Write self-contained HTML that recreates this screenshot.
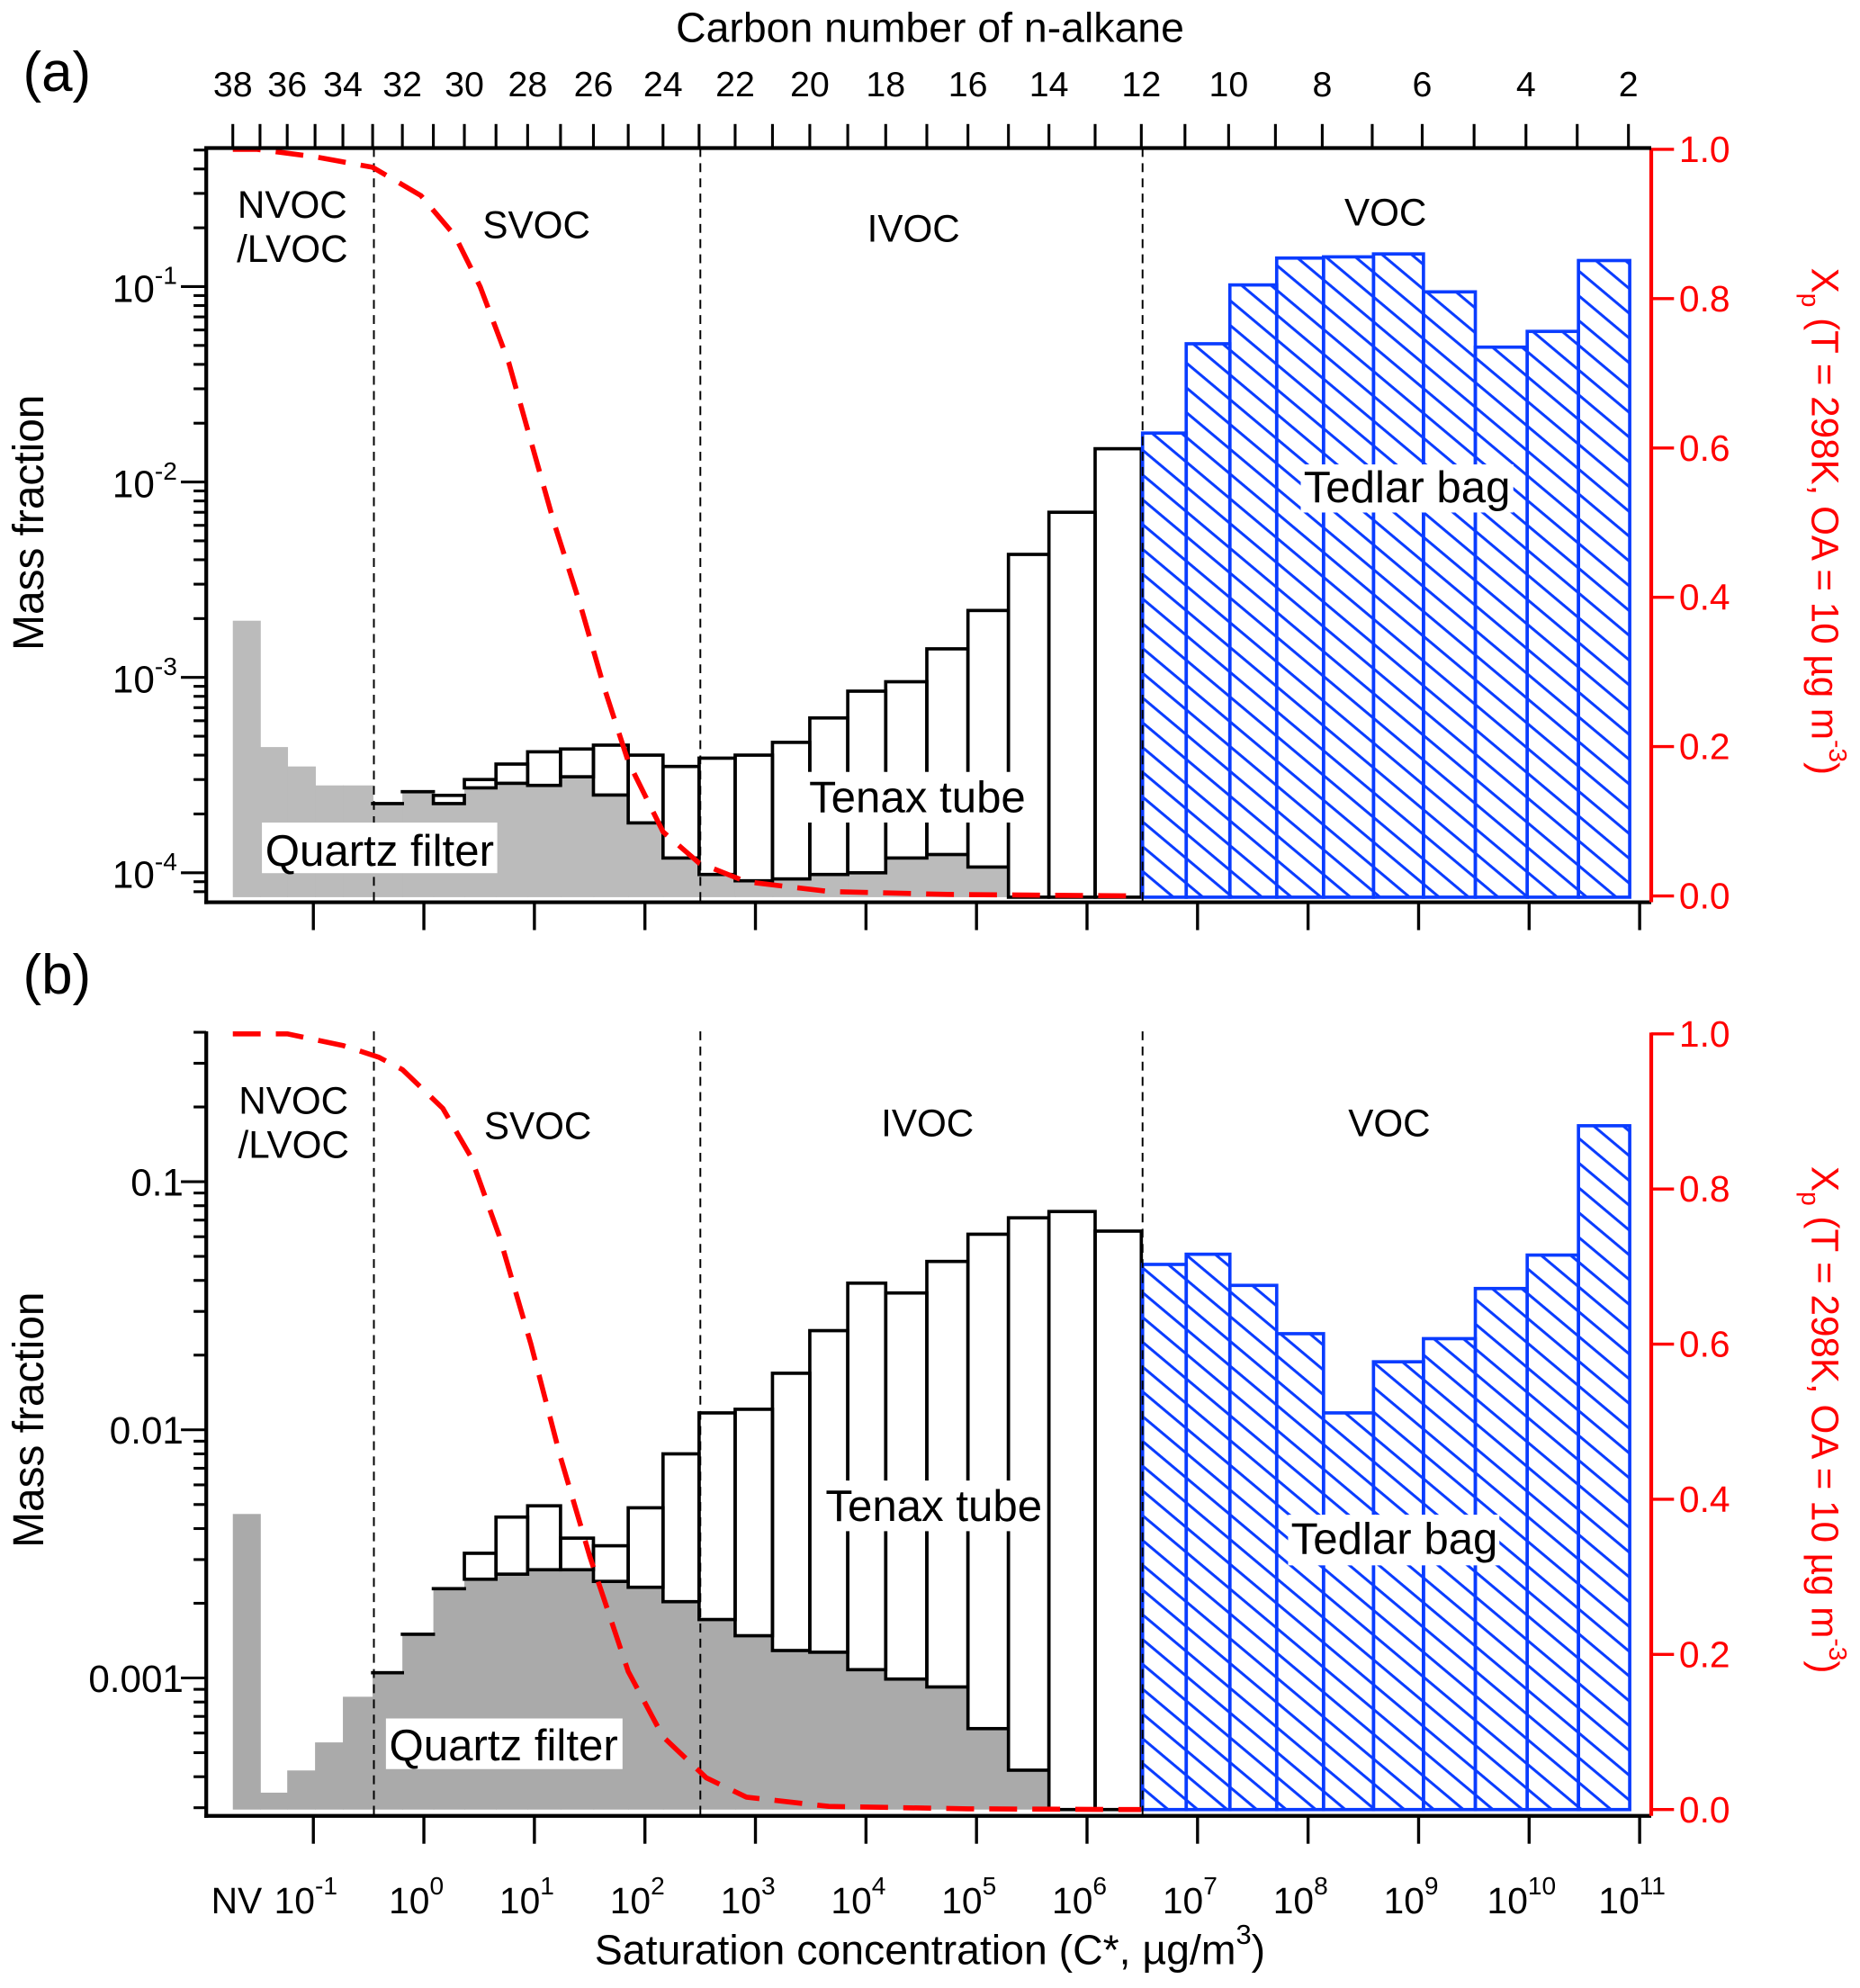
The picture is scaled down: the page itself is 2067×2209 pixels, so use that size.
<!DOCTYPE html>
<html><head><meta charset="utf-8"><title>Mass fraction vs saturation concentration</title>
<style>
html,body{margin:0;padding:0;background:#fff;}
svg{display:block;font-family:"Liberation Sans",Arial,sans-serif;}
</style></head>
<body>
<svg id="chart" width="2067" height="2209" viewBox="0 0 1470 1571" preserveAspectRatio="none" xmlns="http://www.w3.org/2000/svg">
<defs>
<pattern id="hatch" patternUnits="userSpaceOnUse" width="15" height="15" patternTransform="rotate(40)">
<line x1="0" y1="7" x2="15" y2="7" stroke="#0a3cff" stroke-width="2.2"/>
</pattern>
</defs>
<g id="root"></g>
</svg>
<script>
// ---------- data ----------
// bars run between consecutive carbon numbers, from C38-C37 (index 0) to C3-C2 (index 35)
const quartzA = [1.95e-3,4.4e-4,3.5e-4,2.8e-4,2.8e-4,2.26e-4,2.6e-4,2.26e-4,2.72e-4,2.87e-4,2.8e-4,3.1e-4,2.5e-4,1.8e-4,1.19e-4,0.98e-4,0.91e-4,0.93e-4,0.98e-4,1.0e-4,1.19e-4,1.24e-4,1.07e-4,0,0,0,0,0,0,0,0,0,0,0,0,0];
const tenaxTotalA = [null,null,null,null,null,2.26e-4,2.6e-4,2.49e-4,3.0e-4,3.6e-4,4.16e-4,4.3e-4,4.5e-4,4.0e-4,3.5e-4,3.86e-4,4.0e-4,4.65e-4,6.2e-4,8.5e-4,9.5e-4,1.4e-3,2.2e-3,4.26e-3,7.0e-3,1.48e-2,null,null,null,null,null,null,null,null,null,null];
const tedlarA = [null,null,null,null,null,null,null,null,null,null,null,null,null,null,null,null,null,null,null,null,null,null,null,null,null,null,1.78e-2,5.1e-2,0.102,0.14,0.142,0.147,0.094,0.049,0.059,0.136];

const quartzB = [4.58e-3,3.45e-4,4.24e-4,5.5e-4,8.4e-4,1.05e-3,1.5e-3,2.29e-3,2.5e-3,2.62e-3,2.73e-3,2.73e-3,2.45e-3,2.32e-3,2.03e-3,1.72e-3,1.48e-3,1.29e-3,1.27e-3,1.08e-3,9.9e-4,9.2e-4,6.25e-4,4.25e-4,0,0,0,0,0,0,0,0,0,0,0,0];
const tenaxTotalB = [null,null,null,null,null,1.05e-3,1.5e-3,2.29e-3,3.18e-3,4.45e-3,4.94e-3,3.66e-3,3.41e-3,4.85e-3,8.0e-3,1.17e-2,1.21e-2,1.69e-2,2.51e-2,3.9e-2,3.56e-2,4.77e-2,6.14e-2,7.15e-2,7.58e-2,6.32e-2,null,null,null,null,null,null,null,null,null,null];
const tedlarB = [null,null,null,null,null,null,null,null,null,null,null,null,null,null,null,null,null,null,null,null,null,null,null,null,null,null,4.64e-2,5.1e-2,3.82e-2,2.44e-2,1.17e-2,1.88e-2,2.33e-2,3.71e-2,5.06e-2,0.168];

// Xp partitioning curve: carbon number vs fraction
const xpCarbonA = [38,37.1,35,33.0,31.4,30.3,29.5,28.6,27.9,27.2,26.4,25.7,25.0,24.0,23.0,21.7,19.5,16.5,12];
const xpValueA  = [1.0,1.0,0.99,0.976,0.938,0.884,0.816,0.715,0.609,0.5,0.39,0.28,0.18,0.086,0.044,0.019,0.006,0.002,0.0];
const xpCarbonB = [38,36,34,32.8,32,30.7,29.8,28.9,27.9,27.0,26.1,25.0,24.0,22.8,21.7,19.5,16,12];
const xpValueB  = [1.0,1.0,0.985,0.97,0.954,0.904,0.842,0.74,0.6,0.454,0.325,0.178,0.094,0.041,0.016,0.004,0.001,0.0];

const carbonLabels = [38,36,34,32,30,28,26,24,22,20,18,16,14,12,10,8,6,4,2];
const xpTicks = [0.0,0.2,0.4,0.6,0.8,1.0];
const xpTickLabels = ["0.0","0.2","0.4","0.6","0.8","1.0"];
const decadeExps = [-1,0,1,2,3,4,5,6,7,8,9,10,11];
const leftMajorA = [-4,-3,-2,-1];
const leftMajorB = [-3,-2,-1];
const leftLabelsB = ["0.001","0.01","0.1"];

// ---------- scales ----------
function cx(n){ // carbon-number axis (nonlinear, piecewise from tick anchors)
  const an=[38,36,34,32,30,28,26,24,22,20,18,16,14,12,10,8,6,4,2];
  const ap=[184,227,271,318,367,417,469,524,581,640,700,765,829,902,971,1045,1124,1206,1287];
  for(let i=0;i<an.length-1;i++){
    if(n<=an[i] && n>=an[i+1]){const t=(an[i]-n)/(an[i]-an[i+1]);return ap[i]+t*(ap[i+1]-ap[i]);}
  }
  return n>38?ap[0]:ap[ap.length-1];
}
function lx(e){ return 335 + 87.35*e; } // log10 C* axis
const PA={top:117,bottom:713,left:163,right:1305,base:709,
  y:function(v){return 689.7-(Math.log10(v)+4)*154.4;},
  ye:function(e){return 689.7-(e+4)*154.4;},
  xp:function(f){return 708-f*590;}, emin:-4.15, emax:-0.29};
const PB={top:815,bottom:1435,left:163,right:1305,base:1430,
  y:function(v){return 933.8-(Math.log10(v)+1)*196.1;},
  ye:function(e){return 933.8-(e+1)*196.1;},
  xp:function(f){return 1430-f*613;}, emin:-3.55, emax:-0.39};

const NS="http://www.w3.org/2000/svg";
const root=document.getElementById('root');
function mk(tag,attrs,parent){const el=document.createElementNS(NS,tag);for(const k in attrs)el.setAttribute(k,attrs[k]);(parent||root).appendChild(el);return el;}
function txt(s,attrs,parent){const el=mk('text',attrs,parent);el.textContent=s;return el;}

function drawPanel(P,quartz,total,tedlar,xpC,xpV,gray,panelName){
  const g=mk('g',{});
  
  
  // quartz bars
  for(let i=0;i<36;i++){
    const x0=cx(38-i),x1=cx(37-i);
    if(quartz[i]>0){
      const r=mk('rect',{x:x0,y:P.y(quartz[i]),width:x1-x0+0.6,height:P.base-P.y(quartz[i]),fill:gray},g);
      
      
    }
  }
  // tenax stacked outline bars
  for(let i=0;i<36;i++){
    if(total[i]==null) continue;
    const x0=cx(38-i),x1=cx(37-i);
    const yt=P.y(total[i]);
    const yb=quartz[i]>0?P.y(quartz[i]):P.base;
    const r=mk('rect',{x:x0,y:yt,width:x1-x0,height:Math.max(yb-yt,0.01),fill:'none',stroke:'#000','stroke-width':2.6},g);
    
    
  }
  // tedlar hatched bars
  for(let i=0;i<36;i++){
    if(tedlar[i]==null) continue;
    const x0=cx(38-i),x1=cx(37-i);
    const yt=P.y(tedlar[i]);
    const r=mk('rect',{x:x0+1,y:yt,width:x1-x0,height:P.base-yt,fill:'url(#hatch)',stroke:'#0a3cff','stroke-width':2.6},g);
    
    
  }
  // region dividers
  [33,23,12].forEach(function(n){
    const l=mk('line',{x1:cx(n)+1,x2:cx(n)+1,y1:P.top,y2:P.bottom,stroke:'#000','stroke-width':1.4,'stroke-dasharray':'7,5'},g);
    
    
  });
  // Xp curve
  let d='';
  for(let i=0;i<xpC.length;i++){d+=(i?'L':'M')+cx(xpC[i]).toFixed(1)+','+P.xp(xpV[i]).toFixed(1);}
  const c=mk('path',{d:d,fill:'none',stroke:'#ff0000','stroke-width':4,'stroke-dasharray':'22,12','stroke-linejoin':'round'},g);
  
  
  // left axis
  const la=mk('line',{x1:P.left,x2:P.left,y1:P.top,y2:P.bottom+1.5,stroke:'#000','stroke-width':3},g);
  
  
  for(let e=-5;e<=0;e++){
    for(let k=1;k<=9;k++){
      const le=e+Math.log10(k);
      if(le<P.emin||le>P.emax) continue;
      const y=P.ye(le);
      const t=mk('line',{x1:P.left-(k===1?20:10),x2:P.left,y1:y,y2:y,stroke:'#000','stroke-width':2.2},g);
      
      
    }
  }
  // bottom axis
  const ba=mk('line',{x1:P.left-1.5,x2:P.right,y1:P.bottom,y2:P.bottom,stroke:'#000','stroke-width':3},g);
  
  
  decadeExps.forEach(function(e){
    const t=mk('line',{x1:lx(e),x2:lx(e),y1:P.bottom,y2:P.bottom+22,stroke:'#000','stroke-width':2.4},g);
    
    
  });
  // right red axis
  const ra=mk('line',{x1:P.right,x2:P.right,y1:P.xp(1)-1,y2:P.bottom,stroke:'#ff0000','stroke-width':3},g);
  
  
  xpTicks.forEach(function(f,i){
    const y=P.xp(f);
    const t=mk('line',{x1:P.right,x2:P.right+18,y1:y,y2:y,stroke:'#ff0000','stroke-width':2.4},g);
    
    
    const l=txt(xpTickLabels[i],{x:P.right+22,y:y+10,'font-size':29,fill:'#ff0000'},g);
    
    
  });
  return g;
}

const gA=drawPanel(PA,quartzA,tenaxTotalA,tedlarA,xpCarbonA,xpValueA,'#bbbbbb','panel-a');
const gB=drawPanel(PB,quartzB,tenaxTotalB,tedlarB,xpCarbonB,xpValueB,'#aaaaaa','panel-b');

// panel a top axis
const ta=mk('line',{x1:PA.left-1.5,x2:PA.right,y1:PA.top,y2:PA.top,stroke:'#000','stroke-width':3},gA);


for(let n=38;n>=2;n--){
  const t=mk('line',{x1:cx(n),x2:cx(n),y1:PA.top-19,y2:PA.top,stroke:'#000','stroke-width':2.2},gA);
  
  
}
carbonLabels.forEach(function(n){
  const l=txt(String(n),{x:cx(n),y:76,'font-size':28,'text-anchor':'middle'},gA);
  
  
});
const tt=txt('Carbon number of n-alkane',{x:735,y:33,'font-size':33,'text-anchor':'middle'},gA);



// left tick labels
leftMajorA.forEach(function(e){
  const t=mk('text',{x:140,y:PA.ye(e)+12,'font-size':30,'text-anchor':'end'},gA);
  
  
  const a=mk('tspan',{},t);a.textContent='10';
  const b=mk('tspan',{dy:-14,'font-size':20},t);b.textContent=String(e);
});
leftMajorB.forEach(function(e,i){
  const t=txt(leftLabelsB[i],{x:145,y:PB.ye(e)+11,'font-size':30,'text-anchor':'end'},gB);
  
  
});

// bottom labels panel b
const nv=txt('NV',{x:187,y:1512,'font-size':29,'text-anchor':'middle'},gB);


decadeExps.forEach(function(e){
  const t=mk('text',{x:lx(e)-6,y:1512,'font-size':29,'text-anchor':'middle'},gB);
  
  
  const a=mk('tspan',{},t);a.textContent='10';
  const b=mk('tspan',{dy:-15,'font-size':20},t);b.textContent=String(e);
});
const bt=mk('text',{x:735,y:1552,'font-size':33,'text-anchor':'middle'},gB);


(function(){const a=mk('tspan',{},bt);a.textContent='Saturation concentration (C*, µg/m';
const b=mk('tspan',{dy:-16,'font-size':22},bt);b.textContent='3';
const c=mk('tspan',{dy:16},bt);c.textContent=')';})();

// annotations
function label(s,x,y,size,name,parent){const t=txt(s,{x:x,y:y,'font-size':size,'text-anchor':'middle'},parent);return t;}
function box(x,y,w,h,parent){const r=mk('rect',{x:x,y:y,width:w,height:h,fill:'#fff'},parent);}
label('(a)',45,72,44,'panel-a-label',gA);
label('(b)',45,785,44,'panel-b-label',gB);

label('NVOC',231,172,30,'nvoc-region-label',gA);
label('/LVOC',231,207,30,'lvoc-region-label',gA);
label('SVOC',424,188,30,'svoc-region-label',gA);
label('IVOC',722,191,30,'ivoc-region-label',gA);
label('VOC',1095,178,30,'voc-region-label',gA);
box(207,650,186,40,gA); label('Quartz filter',300,684,35,'quartz-filter-label',gA);
box(637,610,175,40,gA); label('Tenax tube',725,642,35,'tenax-tube-label',gA);
box(1028,367,168,38,gA); label('Tedlar bag',1112,397,35,'tedlar-bag-label',gA);

label('NVOC',232,880,30,'nvoc-region-label',gB);
label('/LVOC',232,915,30,'lvoc-region-label',gB);
label('SVOC',425,900,30,'svoc-region-label',gB);
label('IVOC',733,898,30,'ivoc-region-label',gB);
label('VOC',1098,898,30,'voc-region-label',gB);
box(305,1358,187,40,gB); label('Quartz filter',398,1391,35,'quartz-filter-label',gB);
box(650,1170,176,40,gB); label('Tenax tube',738,1202,35,'tenax-tube-label',gB);
box(1018,1197,167,40,gB); label('Tedlar bag',1102,1228,35,'tedlar-bag-label',gB);

// y-axis titles
function ytitle(cy,name,parent){const t=txt('Mass fraction',{x:0,y:0,'font-size':34,'text-anchor':'middle',transform:'translate(34,'+cy+') rotate(-90)'},parent);}
ytitle(413,'left-axis-title',gA);
ytitle(1122,'left-axis-title',gB);
function rtitle(cy,name,parent){
  const t=mk('text',{x:0,y:0,'font-size':30,'text-anchor':'middle',fill:'#ff0000',transform:'translate(1432,'+cy+') rotate(90)'},parent);
  
  
  const a=mk('tspan',{},t);a.textContent='X';
  const b=mk('tspan',{dy:8,'font-size':20},t);b.textContent='p';
  const c=mk('tspan',{dy:-8},t);c.textContent=' (T = 298K, OA = 10 µg m';
  const d=mk('tspan',{dy:-14,'font-size':20},t);d.textContent='-3';
  const e=mk('tspan',{dy:14},t);e.textContent=')';
}
rtitle(412,'right-axis-title',gA);
rtitle(1122,'right-axis-title',gB);
</script>
</body></html>
